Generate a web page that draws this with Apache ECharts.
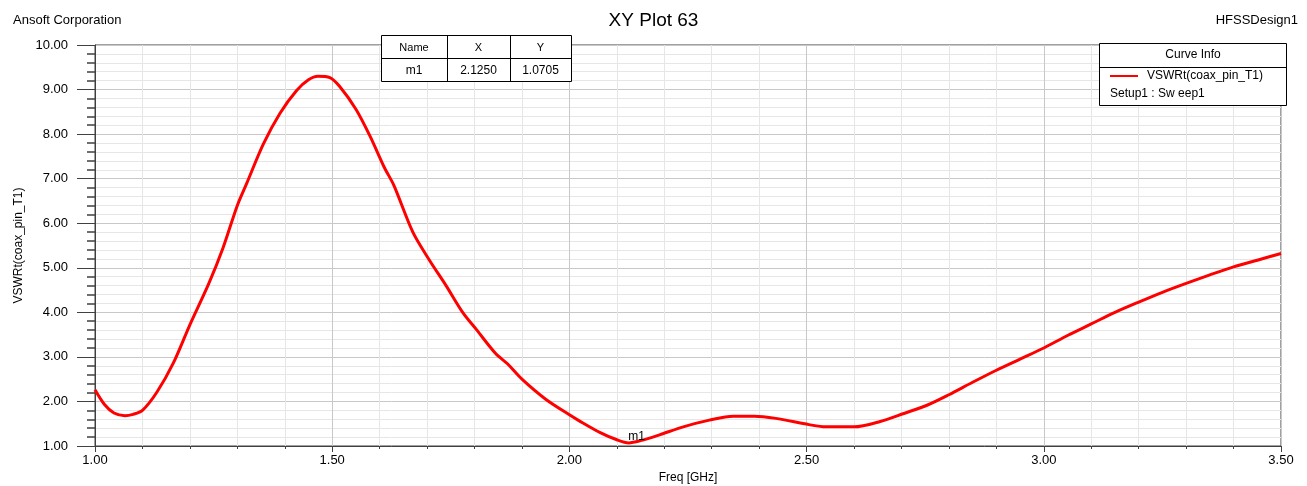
<!DOCTYPE html>
<html>
<head>
<meta charset="utf-8">
<script src="https://cdn.jsdelivr.net/npm/echarts@6/dist/echarts.min.js"></script>
<style>
html,body{margin:0;padding:0;background:#fff;}
#chart{width:1307px;height:486px;}
</style>
</head>
<body>
<div id="chart"></div>
<script>
var freqs = [1.000,1.020,1.040,1.063,1.080,1.100,1.130,1.165,1.200,1.240,1.270,1.300,1.320,1.355,1.390,1.425,1.450,1.470,1.495,1.515,1.550,1.580,1.610,1.630,1.670,1.705,1.740,1.775,1.805,1.845,1.870,1.900,1.950,2.000,2.020,2.065,2.100,2.125,2.150,2.190,2.240,2.295,2.345,2.390,2.435,2.505,2.540,2.600,2.655,2.705,2.755,2.800,2.850,2.900,2.950,3.000,3.050,3.100,3.150,3.200,3.250,3.300,3.350,3.400,3.450,3.500];
var vswr = [2.26,1.93,1.74,1.68,1.71,1.80,2.20,2.86,3.72,4.65,5.45,6.40,6.90,7.78,8.47,8.98,9.22,9.30,9.27,9.08,8.56,7.95,7.25,6.85,5.80,5.17,4.60,4.00,3.60,3.07,2.84,2.50,2.05,1.70,1.57,1.30,1.14,1.07,1.12,1.25,1.43,1.58,1.67,1.67,1.62,1.48,1.43,1.43,1.55,1.73,1.92,2.15,2.43,2.70,2.95,3.20,3.48,3.74,4.00,4.23,4.45,4.65,4.84,5.02,5.17,5.32];
var markerHeaders = ['Name','X','Y'];
var markerName = 'm1';
var markerX = 2.1250;
var markerY = 1.0705;
var curveName = 'VSWRt(coax_pin_T1)';
var curveSetup = 'Setup1 : Sw eep1';

var FONT = 'Liberation Sans, Arial, sans-serif';
var chart = echarts.init(document.getElementById('chart'));
var data = freqs.map(function(f,i){return [f, vswr[i]];});

var Z = 100;
var tx = 381, ty = 35, colW = [66,63,61], rowH = 23;
var els = [];
var tw = colW[0]+colW[1]+colW[2];
els.push({type:'rect',z:Z,shape:{x:tx+0.5,y:ty+0.5,width:tw,height:rowH*2},style:{fill:'#fff',stroke:'#000',lineWidth:1}});
els.push({type:'line',z:Z+1,shape:{x1:tx,y1:ty+rowH+0.5,x2:tx+tw,y2:ty+rowH+0.5},style:{stroke:'#000',lineWidth:1}});
var cx = tx;
var rowVals = [markerName, markerX.toFixed(4), markerY.toFixed(4)];
for (var c=0;c<3;c++){
  if (c>0) els.push({type:'line',z:Z+1,shape:{x1:cx+0.5,y1:ty,x2:cx+0.5,y2:ty+rowH*2},style:{stroke:'#000',lineWidth:1}});
  els.push({type:'text',z:Z+2,x:cx+colW[c]/2,y:ty+rowH/2+1,style:{text:markerHeaders[c],font:'11px '+FONT,fill:'#000',textAlign:'center',textVerticalAlign:'middle'}});
  els.push({type:'text',z:Z+2,x:cx+colW[c]/2,y:ty+rowH*1.5+1,style:{text:rowVals[c],font:'12px '+FONT,fill:'#000',textAlign:'center',textVerticalAlign:'middle'}});
  cx += colW[c];
}
els.push({type:'rect',z:Z,shape:{x:1099.5,y:43.5,width:187,height:62},style:{fill:'#fff',stroke:'#000',lineWidth:1}});
els.push({type:'line',z:Z+1,shape:{x1:1099,y1:67.5,x2:1287,y2:67.5},style:{stroke:'#000',lineWidth:1}});
els.push({type:'text',z:Z+2,x:1193,y:55,style:{text:'Curve Info',font:'12px '+FONT,fill:'#000',textAlign:'center',textVerticalAlign:'middle'}});
els.push({type:'line',z:Z+2,shape:{x1:1110,y1:76,x2:1138,y2:76},style:{stroke:'#ff0000',lineWidth:2}});
els.push({type:'text',z:Z+2,x:1147,y:76,style:{text:curveName,font:'12px '+FONT,fill:'#000',textAlign:'left',textVerticalAlign:'middle'}});
els.push({type:'text',z:Z+2,x:1110,y:94,style:{text:curveSetup,font:'12px '+FONT,fill:'#000',textAlign:'left',textVerticalAlign:'middle'}});

var option = {
  backgroundColor:'#fff',
  animation:false,
  title:[
    {text:'XY Plot 63',left:'center',top:6,textStyle:{fontFamily:FONT,fontSize:19,fontWeight:'normal',color:'#000'}},
    {text:'Ansoft Corporation',left:8,top:9,textStyle:{fontFamily:FONT,fontSize:13,fontWeight:'normal',color:'#000'}},
    {text:'HFSSDesign1',right:4,top:9,textStyle:{fontFamily:FONT,fontSize:13,fontWeight:'normal',color:'#000'}}
  ],
  grid:{left:95,right:26,top:45,bottom:40,containLabel:false,outerBoundsMode:'none',show:true,borderColor:'#404040',borderWidth:1,backgroundColor:'transparent'},
  xAxis:{
    type:'value',min:1,max:3.5,interval:0.5,
    name:'Freq [GHz]',nameLocation:'middle',nameGap:24,
    nameTextStyle:{fontFamily:FONT,fontSize:12,color:'#000'},
    axisLine:{show:true,lineStyle:{color:'#404040',width:1}},
    axisTick:{show:true,length:6,lineStyle:{color:'#404040'}},
    minorTick:{show:true,splitNumber:5,length:3,lineStyle:{color:'#404040'}},
    splitLine:{show:true,lineStyle:{color:'#c8c8c8',width:1}},
    minorSplitLine:{show:true,lineStyle:{color:'#e6e6e6',width:1}},
    axisLabel:{fontFamily:FONT,fontSize:13,color:'#000',margin:8,formatter:function(v){return v.toFixed(2);}}
  },
  yAxis:{
    type:'value',min:1,max:10,interval:1,
    name:'VSWRt(coax_pin_T1)',nameLocation:'middle',nameGap:62,nameRotate:90,
    nameTextStyle:{fontFamily:FONT,fontSize:12,color:'#000'},
    axisLine:{show:true,lineStyle:{color:'#404040',width:1}},
    axisTick:{show:true,length:18,lineStyle:{color:'#404040'}},
    minorTick:{show:true,splitNumber:5,length:8,lineStyle:{color:'#404040',width:1.5}},
    splitLine:{show:true,lineStyle:{color:'#c8c8c8',width:1}},
    minorSplitLine:{show:true,lineStyle:{color:'#e6e6e6',width:1}},
    axisLabel:{fontFamily:FONT,fontSize:13,color:'#000',margin:27,formatter:function(v){return v.toFixed(2);}}
  },
  series:[{
    type:'line',data:data,smooth:0.3,showSymbol:false,
    lineStyle:{color:'#ff0000',width:3},
    markPoint:{
      symbol:'circle',symbolSize:0,
      label:{show:true,formatter:markerName,fontFamily:FONT,fontSize:12,color:'#000',offset:[8,-6]},
      data:[{coord:[markerX,markerY]}]
    }
  }],
  graphic:els
};
chart.setOption(option);
</script>
</body>
</html>
